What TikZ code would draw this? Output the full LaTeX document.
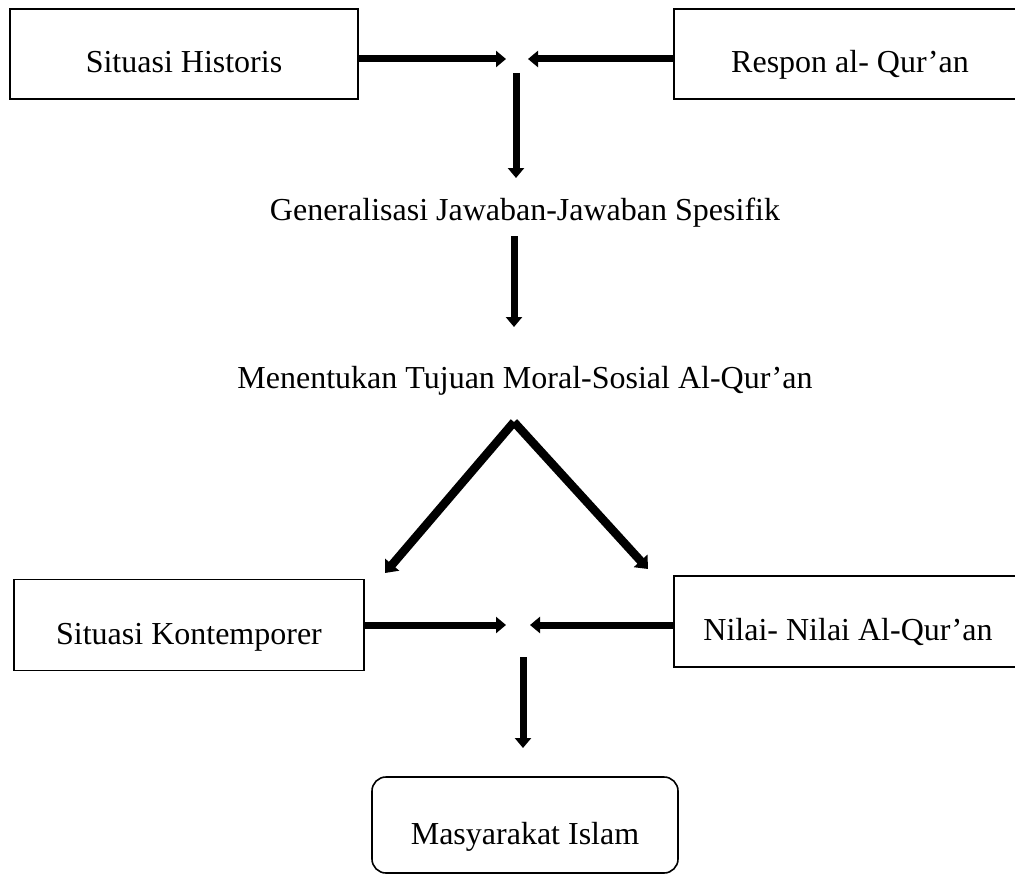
\documentclass[tikz,border=0pt]{standalone}
\usepackage{fontspec}
\setmainfont{Liberation Serif}
\usetikzlibrary{arrows.meta}
\begin{document}
\begin{tikzpicture}[x=1pt,y=-1pt,
  box/.style={draw, line width=1.6pt, inner sep=0pt, text height=38pt, text depth=0pt,
    font=\fontsize{32}{38}\selectfont},
  txt/.style={inner sep=0pt, font=\fontsize{32}{38}\selectfont},
  arr/.style={line width=7pt, -{Triangle[width=16pt,length=10pt]}},
  diag/.style={arr, line width=8.5pt, -{Triangle[width=18pt,length=11pt]}}]
\clip (0,0) rectangle (1015,875);
\fill[white] (0,0) rectangle (1015,875);
% boxes
\node[box, minimum width=348pt, minimum height=90pt] (sh) at (184,54) {Situasi Historis};
\node[box, minimum width=352pt, minimum height=90pt] (rq) at (850,54) {Respon al- Qur’an};
\node[txt, anchor=base] (gen) at (525,220) {Generalisasi Jawaban-Jawaban Spesifik};
\node[txt, anchor=base] (mtm) at (525,388) {Menentukan Tujuan Moral-Sosial Al-Qur’an};
\node[box, minimum width=350pt, minimum height=91pt] (sk) at (189,625) {Situasi Kontemporer};
\node[box, minimum width=348pt, minimum height=91pt] (nq) at (848,621.5) {Nilai- Nilai Al-Qur’an};
\node[box, rounded corners=14pt, minimum width=306pt, minimum height=96pt] (mi) at (525,825) {Masyarakat Islam};
% coordinates
\coordinate (t1) at (506,59);
\coordinate (t2) at (528,59);
\coordinate (d1s) at (516,73);
\coordinate (d1e) at (516,178);
\coordinate (d2s) at (514,236);
\coordinate (d2e) at (514,327);
\coordinate (apex) at (514,422);
\coordinate (dl) at (385,573);
\coordinate (dr) at (648,569);
\coordinate (t3) at (506,625);
\coordinate (t4) at (530,625);
\coordinate (d3s) at (523,657);
\coordinate (d3e) at (523,748);
% arrows
\draw[arr] (sh.east |- t1) -- (t1);
\draw[arr] (rq.west |- t2) -- (t2);
\draw[arr] (d1s) -- (d1e);
\draw[arr] (d2s) -- (d2e);
\draw[diag] (apex) -- (dl);
\draw[diag] (apex) -- (dr);
\draw[arr] (sk.east |- t3) -- (t3);
\draw[arr] (nq.west |- t4) -- (t4);
\draw[arr] (d3s) -- (d3e);
\end{tikzpicture}
\end{document}
